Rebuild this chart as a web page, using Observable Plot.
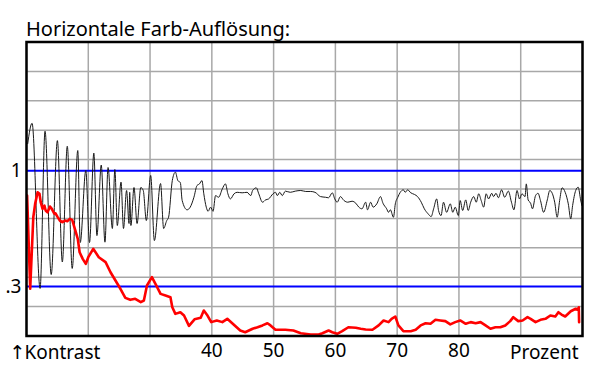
<!DOCTYPE html>
<html>
<head>
<meta charset="utf-8">
<script src="https://cdn.jsdelivr.net/npm/d3@7"></script>
<script src="https://cdn.jsdelivr.net/npm/@observablehq/plot@0.6"></script>
<style>
  html, body { margin: 0; padding: 0; background: #fff; }
  #wrap { position: relative; width: 600px; height: 380px; font-family: "Noto Sans", sans-serif; }
  #title { position: absolute; left: 26px; top: 19px; font-size: 20px; line-height: 1; color: #000; white-space: nowrap; }
  #chart { position: absolute; left: 0; top: 0; }
</style>
</head>
<body>
<div id="wrap">
  <div id="chart"></div>
  <div id="title"></div>
</div>
<script>
// ---- data (x in Prozent, y in Kontrast) ----
const titleText = "Horizontale Farb-Auflösung:";
const xTickValues = [40, 50, 60, 70, 80];
const yTickValues = [0.3, 1];
const yTickLabels = [".3", "1"];
const xLabelArrow = "↑";
const xLabelLeft = "Kontrast";
const xLabelRight = "Prozent";
const gridXValues = [10, 20, 30, 40, 50, 60, 70, 80, 90, 100];
const gridYValues = [0, 0.178, 0.356, 0.534, 0.712, 0.89, 1.068, 1.246, 1.424, 1.602, 1.78];

const blackX = [10.2, 10.9, 12.2, 13.0, 14.0, 15.0, 15.8, 16.6, 17.4, 18.3, 18.7, 19.6, 20.2, 20.9, 21.4, 22.1, 22.7, 23.2, 23.9, 24.3, 24.7, 25.3, 25.7, 26.2, 26.6, 26.7, 26.9, 27.4, 27.9, 28.5, 28.9, 29.4, 30.1, 30.7, 31.7, 32.2, 32.7, 33.0, 33.6, 34.1, 34.5, 34.9, 35.2, 36.0, 36.5, 37.1, 37.6, 38.0, 38.4, 38.7, 39.1, 39.4, 39.8, 40.2, 40.6, 41.1, 41.7, 42.2, 42.6, 43.0, 43.6, 44.1, 44.9, 45.7, 46.3, 46.6, 47.2, 47.6, 48.2, 48.7, 49.2, 49.9, 50.3, 50.6, 51.0, 51.4, 51.9, 52.7, 53.5, 54.4, 55.2, 56.0, 56.7, 57.6, 58.4, 58.9, 59.5, 59.9, 60.3, 60.8, 61.4, 62.0, 62.7, 63.3, 63.8, 64.3, 64.9, 65.2, 65.7, 66.1, 66.7, 67.3, 67.7, 68.3, 68.6, 68.9, 69.4, 69.7, 70.1, 70.5, 71.0, 71.3, 71.7, 72.2, 72.8, 73.3, 73.9, 74.4, 75.0, 75.5, 75.9, 76.4, 76.7, 77.1, 77.5, 78.0, 78.6, 79.0, 79.4, 79.9, 80.2, 80.6, 81.1, 81.5, 81.9, 82.4, 82.8, 83.2, 83.6, 84.0, 84.4, 84.8, 85.3, 85.6, 86.0, 86.4, 86.9, 87.4, 88.0, 88.5, 88.9, 89.4, 89.8, 90.2, 90.7, 90.9, 91.2, 91.6, 91.9, 92.4, 92.8, 93.2, 93.7, 94.3, 94.7, 95.1, 95.5, 95.9, 96.3, 96.7, 97.2, 97.7, 98.1, 98.4, 98.9, 99.3, 99.7, 99.9];
const blackY = [1.165, 1.288, 0.288, 1.240, 0.372, 1.183, 0.448, 1.149, 0.409, 1.123, 0.566, 1.002, 0.566, 1.107, 0.608, 1.035, 0.568, 1.020, 0.651, 1.008, 0.669, 0.932, 0.651, 0.881, 0.681, 0.870, 0.669, 0.899, 0.681, 0.899, 0.881, 0.699, 0.972, 0.578, 0.923, 0.651, 0.699, 0.719, 0.941, 0.992, 0.941, 0.929, 0.820, 0.764, 0.780, 0.840, 0.911, 0.921, 0.941, 0.861, 0.780, 0.755, 0.780, 0.755, 0.850, 0.840, 0.891, 0.921, 0.861, 0.830, 0.861, 0.870, 0.867, 0.870, 0.850, 0.881, 0.897, 0.861, 0.810, 0.824, 0.830, 0.861, 0.870, 0.850, 0.870, 0.850, 0.877, 0.870, 0.877, 0.881, 0.875, 0.875, 0.870, 0.844, 0.840, 0.837, 0.867, 0.830, 0.810, 0.844, 0.820, 0.810, 0.816, 0.804, 0.780, 0.770, 0.810, 0.764, 0.810, 0.780, 0.800, 0.844, 0.804, 0.770, 0.749, 0.764, 0.719, 0.800, 0.840, 0.870, 0.885, 0.870, 0.885, 0.867, 0.857, 0.844, 0.810, 0.770, 0.740, 0.723, 0.770, 0.830, 0.760, 0.729, 0.810, 0.749, 0.800, 0.749, 0.780, 0.729, 0.820, 0.760, 0.824, 0.760, 0.810, 0.844, 0.810, 0.861, 0.820, 0.780, 0.861, 0.830, 0.864, 0.844, 0.864, 0.837, 0.885, 0.840, 0.877, 0.810, 0.764, 0.881, 0.830, 0.861, 0.844, 0.921, 0.824, 0.804, 0.770, 0.850, 0.864, 0.820, 0.749, 0.824, 0.881, 0.864, 0.810, 0.719, 0.820, 0.897, 0.870, 0.800, 0.709, 0.790, 0.881, 0.901, 0.824, 0.790];

const redX = [10.1, 10.6, 11.1, 11.4, 11.8, 12.1, 12.3, 12.6, 12.9, 13.1, 13.4, 13.8, 14.1, 14.5, 14.7, 15.0, 15.4, 15.8, 16.3, 16.6, 17.0, 17.4, 17.9, 18.3, 18.6, 19.1, 19.6, 20.0, 20.8, 21.7, 22.8, 23.6, 24.4, 25.2, 26.0, 26.8, 27.6, 28.5, 29.0, 29.5, 30.3, 31.0, 31.7, 32.5, 33.3, 33.6, 34.1, 34.9, 35.5, 36.3, 37.2, 38.2, 38.7, 39.3, 39.9, 40.8, 41.7, 42.5, 43.3, 44.6, 45.4, 46.6, 47.4, 48.2, 49.0, 49.5, 50.3, 51.9, 53.2, 54.4, 56.0, 57.3, 57.9, 58.9, 59.5, 60.3, 61.1, 62.1, 63.3, 64.1, 64.9, 66.0, 67.0, 67.8, 68.6, 69.1, 69.7, 70.2, 71.0, 72.2, 73.0, 73.8, 74.6, 75.4, 76.2, 77.0, 77.8, 78.6, 79.4, 80.2, 81.1, 81.9, 82.7, 83.5, 84.3, 85.1, 85.9, 86.7, 87.5, 88.3, 88.8, 89.6, 90.3, 91.1, 91.6, 92.4, 93.2, 94.0, 94.8, 95.6, 96.1, 96.6, 97.2, 98.1, 98.9, 99.2, 99.4, 99.45];
const redY = [0.850, 0.286, 0.719, 0.800, 0.870, 0.861, 0.810, 0.770, 0.790, 0.760, 0.749, 0.784, 0.770, 0.740, 0.743, 0.723, 0.699, 0.689, 0.699, 0.695, 0.709, 0.703, 0.639, 0.588, 0.507, 0.467, 0.437, 0.477, 0.528, 0.477, 0.447, 0.386, 0.336, 0.286, 0.231, 0.219, 0.225, 0.205, 0.215, 0.306, 0.356, 0.306, 0.255, 0.245, 0.235, 0.174, 0.134, 0.144, 0.124, 0.061, 0.101, 0.110, 0.154, 0.124, 0.084, 0.094, 0.084, 0.104, 0.077, 0.033, 0.023, 0.044, 0.053, 0.064, 0.077, 0.064, 0.038, 0.038, 0.033, 0.017, 0.009, 0.009, 0.017, 0.033, 0.023, 0.013, 0.029, 0.053, 0.050, 0.044, 0.039, 0.038, 0.064, 0.094, 0.084, 0.104, 0.118, 0.064, 0.029, 0.029, 0.038, 0.064, 0.077, 0.074, 0.098, 0.094, 0.090, 0.070, 0.084, 0.094, 0.074, 0.084, 0.077, 0.084, 0.064, 0.044, 0.053, 0.053, 0.064, 0.090, 0.114, 0.090, 0.094, 0.114, 0.104, 0.084, 0.098, 0.104, 0.124, 0.118, 0.144, 0.130, 0.118, 0.150, 0.165, 0.159, 0.174, 0.084];

// ---- build tables ----
const black = blackX.map((x, i) => ({x, y: blackY[i]}));
const red = redX.map((x, i) => ({x, y: redY[i]}));

const chart = Plot.plot({
  width: 600,
  height: 380,
  marginLeft: 26,
  marginRight: 18,
  marginTop: 41.5,
  marginBottom: 44.5,
  style: {fontFamily: "Noto Sans, sans-serif", fontSize: "19px", color: "#000", background: "#fff"},
  x: {domain: [10, 100], axis: null},
  y: {domain: [0, 1.78], axis: null},
  marks: [
    Plot.ruleX(gridXValues, {stroke: "#a8a8a8", strokeWidth: 1.5}),
    Plot.ruleY(gridYValues, {stroke: "#a8a8a8", strokeWidth: 1.5}),
    Plot.ruleY(yTickValues, {stroke: "#0000ff", strokeWidth: 2}),
    Plot.line(black, {x: "x", y: "y", stroke: "#1a1a1a", strokeWidth: 1, curve: "monotone-x", clip: true}),
    Plot.line(red, {x: "x", y: "y", stroke: "#ff0000", strokeWidth: 2.6, strokeLinejoin: "round", clip: true}),
    Plot.frame({stroke: "#000", strokeWidth: 2.5}),
    Plot.axisX(xTickValues, {tickSize: 0, tickPadding: 7, fontSize: 19, label: null}),
    Plot.axisY(yTickValues, {tickSize: 0, tickPadding: 5, fontSize: 19, label: null,
      tickFormat: d => yTickLabels[yTickValues.indexOf(d)]}),
    Plot.text([xLabelArrow], {frameAnchor: "bottom-left", textAnchor: "middle", dx: -9, dy: 23, fontSize: 19, fontFamily: "DejaVu Sans"}),
    Plot.text([xLabelLeft], {frameAnchor: "bottom-left", textAnchor: "start", dx: -2, dy: 23, fontSize: 19}),
    Plot.text([xLabelRight], {frameAnchor: "bottom-right", textAnchor: "end", dx: -4, dy: 23, fontSize: 19})
  ]
});
document.getElementById("chart").appendChild(chart);
document.getElementById("title").textContent = titleText;
</script>
</body>
</html>
